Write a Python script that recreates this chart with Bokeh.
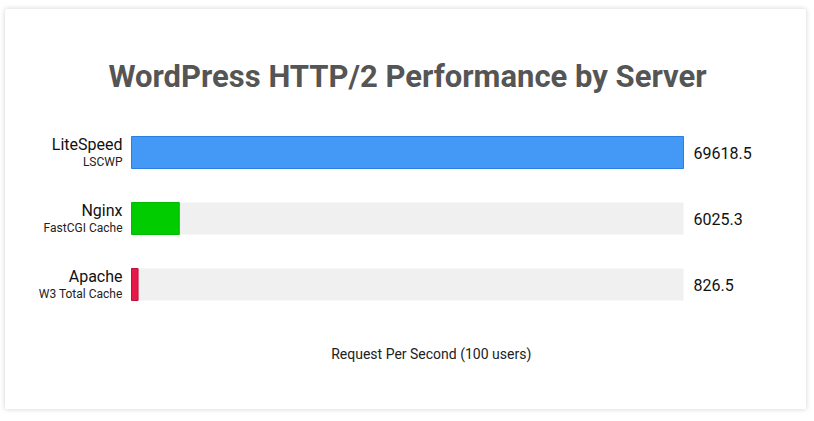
from bokeh.plotting import figure
from bokeh.models import Range1d, Label, ColumnDataSource
from bokeh.embed import file_html
from bokeh.resources import INLINE
from bokeh.core.properties import value

servers = ["LiteSpeed", "Nginx", "Apache"]
plugins = ["LSCWP", "FastCGI Cache", "W3 Total Cache"]
rps = [69618.5, 6025.3, 826.5]
value_labels = ["69618.5", "6025.3", "826.5"]
fills = ["#4499f6", "#00cc00", "#e8174a"]
borders = ["#2a80e2", "#00bb00", "#c0103c"]
title_text = "WordPress HTTP/2 Performance by Server"
axis_text = "Request Per Second (100 users)"

# layout (pixels inside the card)
W, H = 801, 400
BAR_LEFT_PX, BAR_W_PX = 126, 552
ROW_PX, FIRST_ROW_PX = 66, 143

xmax = max(rps)
per_px = xmax / BAR_W_PX
x_start = -BAR_LEFT_PX * per_px
x_end = (W - BAR_LEFT_PX) * per_px
y_top = -FIRST_ROW_PX / ROW_PX
y_bottom = (H - FIRST_ROW_PX) / ROW_PX

ypos = list(range(len(servers)))
src = ColumnDataSource(dict(
    y=ypos, server=servers, plugin=plugins, rps=rps, lab=value_labels,
    fill=fills, border=borders, track=[xmax] * len(rps),
))

p = figure(
    width=W, height=H,
    x_range=Range1d(x_start, x_end), y_range=Range1d(y_bottom, y_top),
    output_backend="svg", toolbar_location=None,
    min_border=0, min_border_left=0, min_border_right=0,
    min_border_top=0, min_border_bottom=0,
)
p.styles = {"margin": "9px 0 0 5px",
            "box-shadow": "0 0 4px 1px rgba(0,0,0,0.13)", "border-radius": "3px"}
p.background_fill_color = "white"
p.border_fill_color = "white"
p.outline_line_color = None
p.xgrid.visible = False
p.ygrid.visible = False
p.xaxis.visible = False
p.yaxis.visible = False

bh = 32 / ROW_PX
p.hbar(y="y", left=0, right="track", height=bh, source=src,
       fill_color="#f0f0f0", line_color=None)
p.hbar(y="y", left=0, right="rps", height=bh, source=src,
       fill_color="fill", line_color="border", line_width=1)

p.text(x=0, y="y", text="server", source=src, x_offset=-9, y_offset=-8,
       text_align="right", text_baseline="middle", text_font=value("Roboto"),
       text_font_size="16px", text_color="#111111")
p.text(x=0, y="y", text="plugin", source=src, x_offset=-9, y_offset=9,
       text_align="right", text_baseline="middle", text_font=value("Roboto"),
       text_font_size="12px", text_color="#222222")
p.text(x="track", y="y", text="lab", source=src, x_offset=10, y_offset=0,
       text_align="left", text_baseline="middle", text_font=value("Roboto"),
       text_font_size="16px", text_color="#111111")

p.add_layout(Label(x=xmax / 2, y=-76 / ROW_PX, text=title_text, text_align="center",
                   text_baseline="middle", text_font="Roboto", text_font_size="31px",
                   text_font_style="bold", text_color="#555555"))
p.add_layout(Label(x=xmax * 0.543, y=201 / ROW_PX, text=axis_text, text_align="center",
                   text_baseline="middle", text_font="Roboto", text_font_size="14px",
                   text_color="#222222"))

open("out.html", "w").write(file_html(p, INLINE))
